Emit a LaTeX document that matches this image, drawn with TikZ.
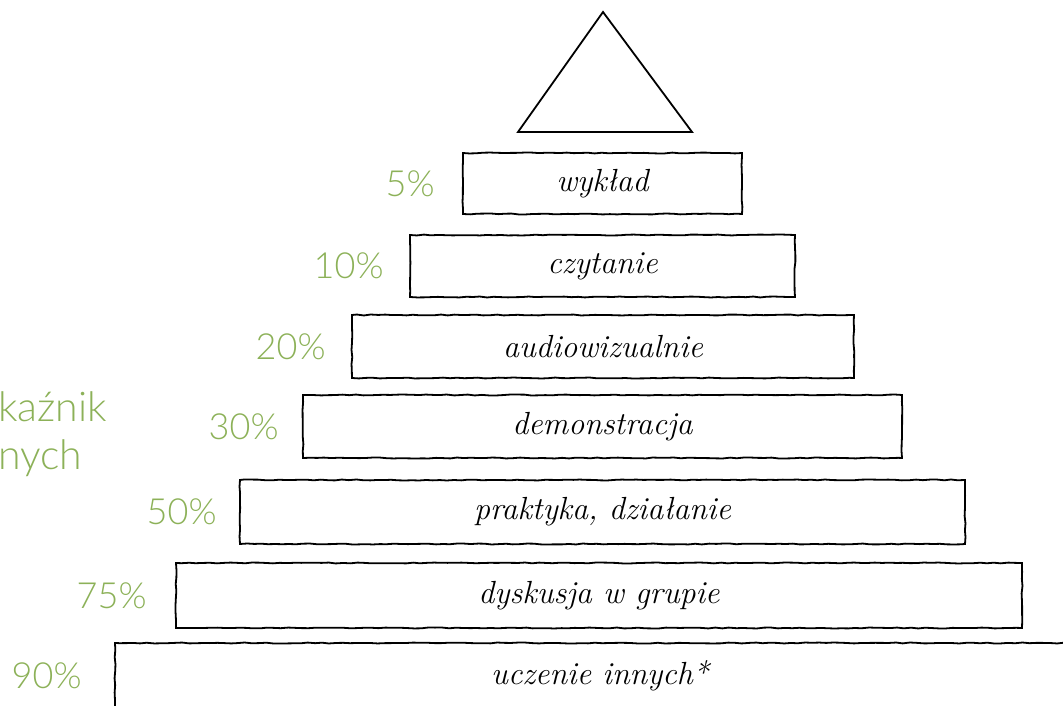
\documentclass[tikz,border=0pt]{standalone}
\usepackage{fontspec}
\newfontfamily\pctfont{Lato}[UprightFont=* Light]
\usetikzlibrary{positioning,decorations.pathmorphing}
\definecolor{pctgreen}{HTML}{8CB158}
\begin{document}
\begin{tikzpicture}[x=1pt, y=1pt,
      every node/.style={font=\fontsize{32}{36}\selectfont\itshape},
      tier/.style={draw, line width=1.8pt, rectangle, inner sep=0pt,
        decorate, decoration={random steps, segment length=7pt, amplitude=0.5pt}},
      pct/.style={font=\pctfont\fontsize{36}{38}\selectfont, text=pctgreen, anchor=east},
    ]
    \useasboundingbox (0,0) rectangle (1063,706);
    \clip (0,0) rectangle (1063,706);

    % top of the pyramid
    \draw[line width=1.8pt, line join=miter] (518,574) -- (603,694) -- (692,574) -- cycle;

    % tiers, top to bottom
    \node[tier, minimum width=279pt, minimum height=61pt] (t1) at (602.5,522.5) {wykład};
    \node[tier, minimum width=385pt, minimum height=62pt] (t2) at (602.5,440)   {czytanie};
    \node[tier, minimum width=502pt, minimum height=63pt] (t3) at (603,359.5)   {audiowizualnie};
    \node[tier, minimum width=599pt, minimum height=63pt] (t4) at (602.5,279.5) {demonstracja};
    \node[tier, minimum width=725pt, minimum height=64pt] (t5) at (602.5,194)   {praktyka, działanie};
    \node[tier, minimum width=846pt, minimum height=65pt] (t6) at (599,110.5)   {dyskusja w grupie};
    \node[tier, minimum width=970pt, minimum height=65pt] (t7) at (600,30.5)    {uczenie innych*};

    % retention rates
    \node[pct] (p1) at ([xshift=-24pt]t1.west) {5\%};
    \node[pct] (p2) at ([xshift=-22pt]t2.west) {10\%};
    \node[pct] (p3) at ([xshift=-22pt]t3.west) {20\%};
    \node[pct] (p4) at ([xshift=-20pt]t4.west) {30\%};
    \node[pct] (p5) at ([xshift=-19pt]t5.west) {50\%};
    \node[pct] (p6) at ([xshift=-25pt]t6.west) {75\%};
    \node[pct] (p7) at ([xshift=-29pt]t7.west) {90\%};

    % side caption
    \node[font=\pctfont\fontsize{41}{48}\selectfont, text=pctgreen, anchor=west,
      align=left, inner sep=0pt] (cap) at (-2,272) {kaźnik\\nych};
  \end{tikzpicture}
\end{document}
